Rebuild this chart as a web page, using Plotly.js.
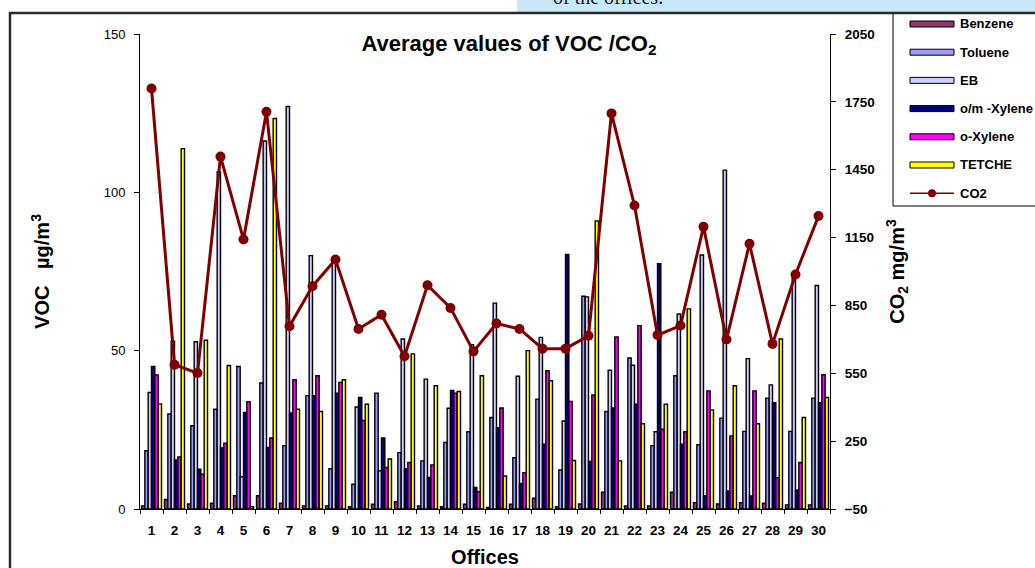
<!DOCTYPE html>
<html>
<head>
<meta charset="utf-8">
<script src="https://cdn.plot.ly/plotly-3.0.1.min.js"></script>
<style>
  html, body { margin: 0; padding: 0; background: #fff; }
  #chart { width: 1035px; height: 568px; }
</style>
</head>
<body>
<div id="chart"></div>
<script>
// Offices 1..30
const offices = ['1','2','3','4','5','6','7','8','9','10','11','12','13','14','15',
                 '16','17','18','19','20','21','22','23','24','25','26','27','28','29','30'];

// VOC concentrations, µg/m3
const benzene  = [1, 3, 1.6, 1.8, 4.2, 4.2, 1.8, 1, 1, 0.7, 1.5, 2.3, 1, 0.7, 1.5,
                  0.5, 1.5, 3.4, 0.7, 1.6, 5.3, 1, 1, 5.3, 2, 1.6, 2, 1.8, 1.3, 1.3];
const toluene  = [18.4, 30, 26.3, 31.5, 45, 39.8, 20, 35.8, 12.7, 7.8, 36.6, 17.8, 15.2, 21, 24.4,
                  28.9, 16.2, 34.7, 12.3, 67.2, 30.8, 47.7, 20, 42.1, 20.3, 28.7, 24.5, 35, 24.5, 35];
const eb       = [36.8, 53, 52.8, 106.4, 10.2, 116.2, 127.1, 80, 78, 32.2, 12.1, 53.7, 41, 31.8, 51.9,
                  65, 41.9, 54.2, 27.8, 67, 43.8, 45.4, 24.4, 61.6, 80.2, 107, 47.5, 39.2, 74, 70.6];
const omXylene = [45, 15.5, 12.6, 19.3, 30.5, 19.4, 30.3, 35.8, 36.6, 35.2, 22.4, 12.7, 10, 37.4, 6.8,
                  25.7, 8.1, 20.5, 80.4, 15, 31.9, 33.1, 77.5, 20.5, 4.2, 5.7, 4.1, 33.6, 6, 33.6];
const oXylene  = [42.3, 16.4, 11, 20.8, 33.9, 22.4, 40.8, 42.1, 40, 28, 13.1, 14.7, 13.9, 36.6, 5.5,
                  31.9, 11.5, 43.7, 34, 36, 54.3, 57.9, 25.2, 24.4, 37.3, 23.1, 37.3, 9.9, 14.7, 42.4];
const tetche   = [33.2, 113.8, 53.3, 45.3, 0.7, 123.3, 31.5, 30.8, 40.8, 33.1, 15.8, 49, 38.9, 37.1, 42.1,
                  10.4, 50, 40.5, 15.3, 91, 15.2, 26.9, 33.1, 63.2, 31.3, 38.9, 26.9, 53.7, 28.9, 35.2];

// CO2 concentrations, mg/m3
const co2 = [1809, 588, 551, 1508, 1142, 1706, 758, 935, 1053, 746, 809, 625, 939, 839, 647,
             770, 746, 659, 659, 716, 1699, 1292, 719, 761, 1198, 699, 1123, 680, 987, 1245];

const seriesNames  = ['Benzene', 'Toluene', 'EB', 'o/m -Xylene', 'o-Xylene', 'TETCHE'];
const seriesValues = [benzene, toluene, eb, omXylene, oXylene, tetche];
const seriesColors = ['#993366', '#9999FF', '#CCCCFF', '#000080', '#FF00FF', '#FFFF00'];
const co2Name  = 'CO2';
const co2Color = '#800000';

// plot area in page pixels, used to place decorations in paper coordinates
const L = 140, R = 830, T = 34, B = 509;
const px = x => (x - L) / (R - L);
const py = y => (B - y) / (B - T);

const FONT = 'Liberation Sans, Arial, sans-serif';

const traces = seriesNames.map((name, i) => ({
  type: 'bar',
  name: name,
  x: offices,
  y: seriesValues[i],
  marker: { color: seriesColors[i], line: { color: '#000', width: 1.4 } },
  showlegend: false,
  hoverinfo: 'x+y+name'
}));

traces.push({
  type: 'scatter',
  mode: 'lines+markers',
  name: co2Name,
  x: offices,
  y: co2,
  yaxis: 'y2',
  line: { color: co2Color, width: 3 },
  marker: { color: co2Color, size: 10 },
  showlegend: false
});

// frame, strip and legend box with long flat swatches
const shapes = [
  { type: 'rect', xref: 'paper', yref: 'paper', x0: px(517), x1: px(1040), y0: py(12), y1: py(-5),
    fillcolor: '#c8e8f7', line: { width: 0 }, layer: 'below' },
  { type: 'rect', xref: 'paper', yref: 'paper', x0: px(893), x1: px(1045), y0: py(206), y1: py(13),
    fillcolor: '#fff', line: { color: '#000', width: 1 } },
  { type: 'rect', xref: 'paper', yref: 'paper', x0: px(10), x1: px(1045), y0: py(590), y1: py(13),
    fillcolor: 'rgba(0,0,0,0)', line: { color: '#2a2a2a', width: 2.5 } }
];

const annotations = [
  { text: 'of the offices.', xref: 'paper', yref: 'paper', x: px(551), y: py(10),
    xanchor: 'left', yanchor: 'bottom', showarrow: false,
    font: { family: 'Liberation Serif, Times New Roman, serif', size: 20, color: '#1a1a1a' } }
];

const legendTop = 24, legendStep = 28.2;
seriesNames.forEach((name, i) => {
  const c = legendTop + i * legendStep;
  shapes.push({ type: 'rect', xref: 'paper', yref: 'paper', x0: px(910), x1: px(954),
    y0: py(c + 3), y1: py(c - 3), fillcolor: seriesColors[i], line: { color: '#000', width: 1 } });
  annotations.push({ text: name, xref: 'paper', yref: 'paper', x: px(958), y: py(c),
    xanchor: 'left', yanchor: 'middle', showarrow: false,
    font: { family: FONT, size: 13, weight: 700, color: '#000' } });
});
{
  const c = legendTop + seriesNames.length * legendStep;
  shapes.push({ type: 'line', xref: 'paper', yref: 'paper', x0: px(910), x1: px(954),
    y0: py(c), y1: py(c), line: { color: co2Color, width: 1.5 } });
  shapes.push({ type: 'circle', xref: 'paper', yref: 'paper', x0: px(928), x1: px(936),
    y0: py(c + 4), y1: py(c - 4), fillcolor: co2Color, line: { color: co2Color, width: 0 } });
  annotations.push({ text: co2Name, xref: 'paper', yref: 'paper', x: px(958), y: py(c),
    xanchor: 'left', yanchor: 'middle', showarrow: false,
    font: { family: FONT, size: 13, weight: 700, color: '#000' } });
}

const layout = {
  width: 1035,
  height: 568,
  margin: { l: L, r: 1035 - R, t: T, b: 568 - B, pad: 0 },
  paper_bgcolor: '#fff',
  plot_bgcolor: '#fff',
  showlegend: false,
  barmode: 'group',
  bargap: 0.13,
  bargroupgap: 0,
  font: { family: FONT, color: '#000' },
  title: {
    text: 'Average values of VOC /CO<sub>2</sub>',
    font: { family: FONT, size: 22, weight: 700, color: '#000' },
    xref: 'paper', x: px(509), xanchor: 'center',
    yref: 'container', y: 1 - 43 / 568, yanchor: 'middle'
  },
  xaxis: {
    type: 'category',
    range: [-0.5, 29.5],
    tickson: 'boundaries',
    tickangle: 0,
    ticks: 'outside', ticklen: 4, tickcolor: '#000',
    showline: true, linecolor: '#000', linewidth: 1,
    showgrid: false, zeroline: false,
    ticklabelstandoff: 9,
    tickfont: { family: FONT, size: 13.5, weight: 700, color: '#000' },
    title: { text: 'Offices', font: { family: FONT, size: 20, weight: 700, color: '#000' }, standoff: 19 }
  },
  yaxis: {
    range: [0, 150], dtick: 50, tick0: 0,
    ticks: 'outside', ticklen: 5, tickcolor: '#000',
    showline: true, linecolor: '#000', linewidth: 1,
    showgrid: false, zeroline: false,
    ticklabelstandoff: 6,
    tickfont: { family: FONT, size: 13, color: '#000' },
    title: { text: 'VOC\u00a0\u00a0\u00a0µg/m<sup>3</sup>', font: { family: FONT, size: 20, weight: 700, color: '#000' }, standoff: 48 }
  },
  yaxis2: {
    overlaying: 'y', side: 'right',
    range: [-50, 2050], dtick: 300, tick0: -50,
    ticks: 'outside', ticklen: 5, tickcolor: '#000',
    showline: true, linecolor: '#000', linewidth: 1,
    showgrid: false, zeroline: false,
    ticklabelstandoff: 6,
    tickfont: { family: FONT, size: 13.5, weight: 700, color: '#000' },
    title: { text: 'CO<sub>2</sub> mg/m<sup>3</sup>', font: { family: FONT, size: 20, weight: 700, color: '#000' }, standoff: 16 }
  },
  shapes: shapes,
  annotations: annotations
};

Plotly.newPlot('chart', traces, layout, { displayModeBar: false, staticPlot: true });
</script>
</body>
</html>
